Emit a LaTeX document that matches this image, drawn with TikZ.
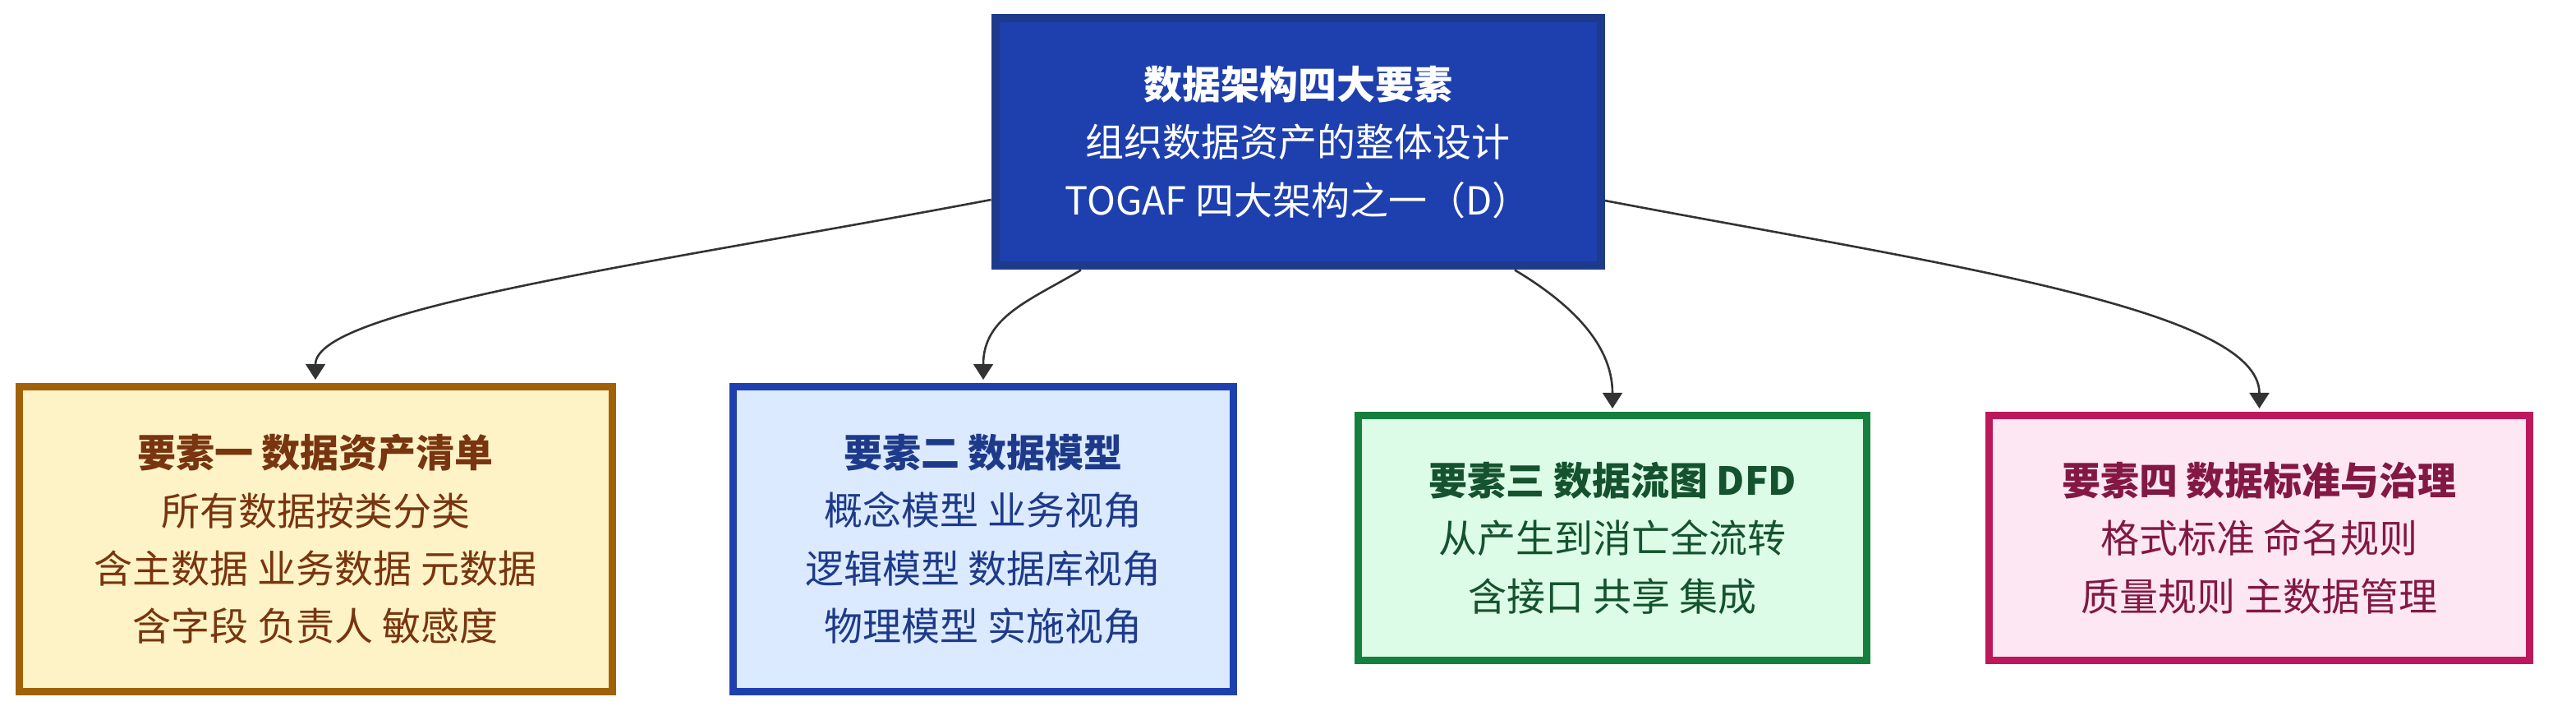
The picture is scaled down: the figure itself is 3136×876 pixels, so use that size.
\documentclass[tikz,border=0pt]{standalone}
\usepackage{fontspec}
\setmainfont{Noto Sans CJK SC}
\usetikzlibrary{arrows.meta,calc}
\definecolor{topfill}{HTML}{1E40AF}
\definecolor{topdraw}{HTML}{1E3A8A}
\definecolor{afill}{HTML}{FEF3C7}
\definecolor{adraw}{HTML}{A16207}
\definecolor{atext}{HTML}{78350F}
\definecolor{bfill}{HTML}{DBEAFE}
\definecolor{bdraw}{HTML}{1E40AF}
\definecolor{btext}{HTML}{1E3A8A}
\definecolor{cfill}{HTML}{DCFCE7}
\definecolor{cdraw}{HTML}{15803D}
\definecolor{ctext}{HTML}{14532D}
\definecolor{dfill}{HTML}{FCE7F3}
\definecolor{ddraw}{HTML}{BE185D}
\definecolor{dtext}{HTML}{831843}
\definecolor{edge}{HTML}{333333}
\tikzset{
  box/.style={rectangle, line width=2.25pt, align=center, inner sep=0pt,
    font=\fontsize{11.75pt}{17.6pt}\selectfont},
  topbox/.style={box, line width=2.5pt, fill=topfill, draw=topdraw, text=white,
    minimum width=184.25pt, minimum height=75.25pt},
  boxa/.style={box, fill=afill, draw=adraw, text=atext, minimum width=180.5pt, minimum height=92.75pt},
  boxb/.style={box, fill=bfill, draw=bdraw, text=btext, minimum width=152.25pt, minimum height=92.75pt},
  boxc/.style={box, fill=cfill, draw=cdraw, text=ctext, minimum width=154.75pt, minimum height=74.5pt},
  boxd/.style={box, fill=dfill, draw=ddraw, text=dtext, minimum width=164.5pt, minimum height=74.5pt},
  conn/.style={draw=edge, line width=0.65pt, -{Triangle[length=4.8pt,width=6pt]}, shorten >=1pt},
}
\begin{document}
\begin{tikzpicture}[x=0.25pt, y=-0.25pt]
\useasboundingbox (0,0) rectangle (3136,876);
\node[topbox] (top) at (1580,173) {\textbf{数据架构四大要素}\\组织数据资产的整体设计\\TOGAF 四大架构之一（D）};
\node[boxa] (e1) at (384,656) {\textbf{要素一 数据资产清单}\\所有数据按类分类\\含主数据 业务数据 元数据\\含字段 负责人 敏感度};
\node[boxb] (e2) at (1197,656) {\textbf{要素二 数据模型}\\概念模型 业务视角\\逻辑模型 数据库视角\\物理模型 实施视角};
\node[boxc] (e3) at (1963,654.5) {\textbf{要素三 数据流图 DFD}\\从产生到消亡全流转\\含接口 共享 集成};
\node[boxd] (e4) at (2750.5,654.5) {\textbf{要素四 数据标准与治理}\\格式标准 命名规则\\质量规则 主数据管理};
\coordinate (s1) at ($(top.west)+(0,-17.5pt)$);
\coordinate (s2) at ($(top.south)+(-66pt,0)$);
\coordinate (s3) at ($(top.south)+(66pt,0)$);
\coordinate (s4) at ($(top.east)+(0,-17.75pt)$);
\draw[conn] (s1) .. controls (800,320) and (384,375) .. (e1.north);
\draw[conn] (s2) .. controls (1255,365) and (1197,385) .. (e2.north);
\draw[conn] (s3) .. controls (1905,365) and (1963,415) .. (e3.north);
\draw[conn] (s4) .. controls (2355,320) and (2750.5,375) .. (e4.north);
\end{tikzpicture}
\end{document}
